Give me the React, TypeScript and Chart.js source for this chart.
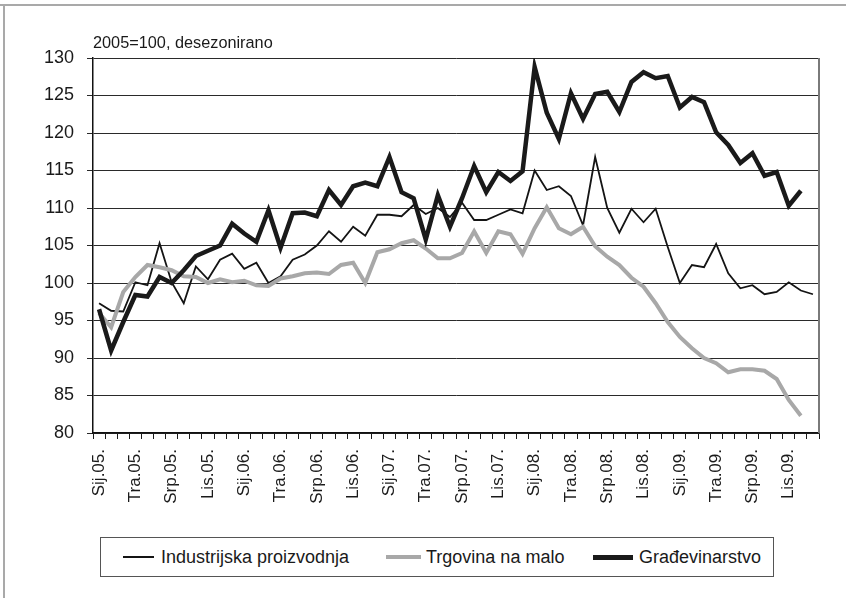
import React, { useEffect, useRef } from "react";
import { Chart, registerables } from "chart.js";

Chart.register(...registerables);

const months = ["Sij", "Velj", "Ožu", "Tra", "Svi", "Lip", "Srp", "Kol", "Ruj", "Lis", "Stu", "Pro"];
const years = ["05", "06", "07", "08", "09"];
const categories: string[] = years.flatMap((y) => months.map((m) => `${m}.${y}.`));

const yTicks = [80, 85, 90, 95, 100, 105, 110, 115, 120, 125, 130];

const industrija = [
  97.3, 96.3, 96.2, 100.1, 99.7, 105.3, 100.1, 97.3, 102.2, 100.5, 103.1, 103.9,
  101.9, 102.7, 100.0, 100.9, 103.1, 103.8, 105.0, 106.9, 105.5, 107.5, 106.3, 109.1,
  109.1, 108.9, 110.4, 109.2, 110.0, 108.8, 110.7, 108.4, 108.4, 109.1, 109.8, 109.3,
  115.0, 112.4, 112.9, 111.6, 107.7, 116.8, 110.0, 106.7, 109.9, 108.1, 109.9, 104.8,
  100.0, 102.4, 102.1, 105.2, 101.3, 99.3, 99.7, 98.5, 98.8, 100.1, 99.0, 98.5,
];

const trgovina = [
  96.0, 94.1, 98.8, 100.8, 102.4, 102.1, 101.7, 100.9, 100.8, 100.0, 100.5, 100.1,
  100.3, 99.7, 99.6, 100.6, 100.9, 101.3, 101.4, 101.2, 102.4, 102.7, 100.0, 104.1,
  104.5, 105.3, 105.7, 104.6, 103.3, 103.3, 104.0, 106.9, 104.0, 106.9, 106.5, 103.9,
  107.3, 110.1, 107.3, 106.5, 107.5, 104.9, 103.5, 102.4, 100.7, 99.5, 97.3, 94.8,
  92.8, 91.3, 90.0, 89.3, 88.1, 88.5, 88.5, 88.3, 87.2, 84.4, 82.3,
];

const gradjevinarstvo = [
  96.5, 91.0, 94.8, 98.4, 98.2, 100.8, 100.0, 101.7, 103.6, 104.3, 105.0, 107.9,
  106.6, 105.5, 109.7, 104.7, 109.3, 109.4, 108.9, 112.4, 110.4, 112.9, 113.4, 112.9,
  116.8, 112.1, 111.3, 105.8, 111.7, 107.5, 111.3, 115.6, 112.1, 114.8, 113.6, 114.9,
  128.8, 122.7, 119.2, 125.3, 121.9, 125.2, 125.5, 122.8, 126.8, 128.1, 127.3, 127.6,
  123.4, 124.8, 124.1, 120.1, 118.4, 116.0, 117.3, 114.3, 114.8, 110.3, 112.3,
];

const seriesNames = ["Industrijska proizvodnja", "Trgovina na malo", "Građevinarstvo"];
const COL_IND = "#141414";
const COL_TRG = "#a8a8a8";
const COL_GRA = "#1a1a1a";

const FONT = "'Liberation Sans', Arial, sans-serif";

const rightBorder = {
  id: "rightBorder",
  afterDraw(chart: any) {
    const { ctx, chartArea } = chart;
    ctx.save();
    ctx.strokeStyle = "#7a7a7a";
    ctx.lineWidth = 2;
    ctx.beginPath();
    ctx.moveTo(chartArea.right, chartArea.top);
    ctx.lineTo(chartArea.right, chartArea.bottom);
    ctx.stroke();
    ctx.restore();
  },
};

export default function App() {
  const ref = useRef<HTMLCanvasElement | null>(null);

  useEffect(() => {
    if (!ref.current) return;
    const chart = new Chart(ref.current, {
      type: "line",
      data: {
        labels: categories,
        datasets: [
          {
            label: seriesNames[0],
            data: industrija,
            borderColor: COL_IND,
            borderWidth: 1.8,
            pointRadius: 0,
            tension: 0,
            order: 2,
          },
          {
            label: seriesNames[1],
            data: trgovina,
            borderColor: COL_TRG,
            borderWidth: 4,
            pointRadius: 0,
            tension: 0,
            order: 1,
          },
          {
            label: seriesNames[2],
            data: gradjevinarstvo,
            borderColor: COL_GRA,
            borderWidth: 4.5,
            pointRadius: 0,
            tension: 0,
            order: 0,
          },
        ],
      },
      plugins: [rightBorder],
      options: {
        animation: false,
        responsive: false,
        devicePixelRatio: 1,
        layout: { padding: { top: 58, right: 27, left: 0, bottom: 0 } },
        plugins: {
          legend: { display: false },
          tooltip: { enabled: false },
          title: { display: false },
        },
        scales: {
          x: {
            type: "category",
            offset: true,
            grid: {
              display: true,
              drawOnChartArea: false,
              drawTicks: true,
              tickLength: 6,
              color: "#1a1a1a",
              offset: true,
            },
            border: { display: true, color: "#111", width: 1.5 },
            ticks: {
              autoSkip: false,
              maxRotation: 90,
              minRotation: 90,
              padding: 10,
              color: "#1a1a1a",
              font: { family: FONT, size: 17 },
              callback: (_v: any, i: number) => (i % 3 === 0 ? categories[i] : ""),
            },
            afterFit: (scale: any) => {
              scale.height = 97;
            },
          },
          y: {
            min: 80,
            max: 130,
            afterBuildTicks: (scale: any) => {
              scale.ticks = yTicks.map((v) => ({ value: v }));
            },
            grid: {
              color: "#2a2a2a",
              lineWidth: 1,
              drawTicks: true,
              tickLength: 6,
            },
            border: { display: true, color: "#111", width: 1.5 },
            ticks: {
              padding: 13,
              color: "#1a1a1a",
              font: { family: FONT, size: 18 },
            },
            afterFit: (scale: any) => {
              scale.width = 93;
            },
          },
        },
      },
    });
    return () => chart.destroy();
  }, []);

  const legendItems = [
    { name: seriesNames[0], color: COL_IND, h: 2.5, sx: 22, sw: 31, tx: 60 },
    { name: seriesNames[1], color: COL_TRG, h: 4, sx: 285, sw: 35, tx: 325 },
    { name: seriesNames[2], color: COL_GRA, h: 5, sx: 492, sw: 40, tx: 538 },
  ];

  return (
    <div
      style={{
        position: "fixed",
        left: 0,
        top: 0,
        width: 846,
        height: 598,
        background: "#fff",
        overflow: "hidden",
        fontFamily: FONT,
      }}
    >
      <div style={{ position: "absolute", left: 0, top: 4, width: 846, height: 2, background: "#a9a9a9" }} />
      <div style={{ position: "absolute", left: 3, top: 4, width: 2, height: 594, background: "#a9a9a9" }} />
      <canvas ref={ref} width={846} height={530} style={{ position: "absolute", left: 0, top: 0, width: 846, height: 530 }} />
      <div
        style={{
          position: "absolute",
          left: 93,
          top: 33,
          fontSize: 16.3,
          color: "#1a1a1a",
          whiteSpace: "nowrap",
          lineHeight: "18px",
        }}
      >
        2005=100, desezonirano
      </div>
      <div
        style={{
          position: "absolute",
          left: 100,
          top: 537,
          width: 674,
          height: 40,
          border: "1px solid #555",
          boxSizing: "border-box",
        }}
      >
        {legendItems.map((it) => (
          <React.Fragment key={it.name}>
            <div
              style={{
                position: "absolute",
                left: it.sx,
                top: 19 - it.h / 2,
                width: it.sw,
                height: it.h,
                background: it.color,
              }}
            />
            <div
              style={{
                position: "absolute",
                left: it.tx,
                top: 8,
                fontSize: 18,
                lineHeight: "22px",
                color: "#1a1a1a",
                whiteSpace: "nowrap",
              }}
            >
              {it.name}
            </div>
          </React.Fragment>
        ))}
      </div>
    </div>
  );
}
